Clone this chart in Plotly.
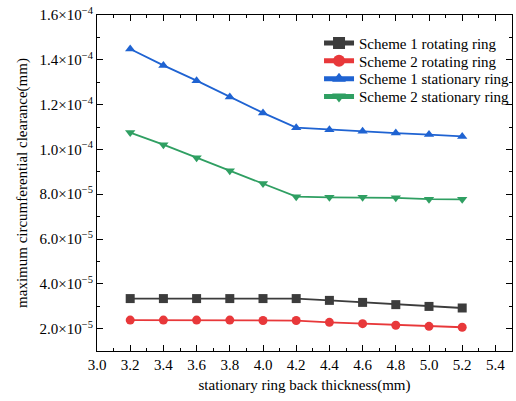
import plotly.graph_objects as go

# stationary ring back thickness (mm)
thickness = [3.2, 3.4, 3.6, 3.8, 4.0, 4.2, 4.4, 4.6, 4.8, 5.0, 5.2]

# maximum circumferential clearance (mm)
scheme1_rotating = [3.34e-5, 3.34e-5, 3.34e-5, 3.34e-5, 3.34e-5, 3.34e-5,
                    3.26e-5, 3.17e-5, 3.07e-5, 2.99e-5, 2.92e-5]
scheme2_rotating = [2.38e-5, 2.38e-5, 2.38e-5, 2.38e-5, 2.36e-5, 2.36e-5,
                    2.28e-5, 2.22e-5, 2.15e-5, 2.10e-5, 2.06e-5]
scheme1_stationary = [1.448e-4, 1.375e-4, 1.307e-4, 1.234e-4, 1.163e-4, 1.097e-4,
                      1.088e-4, 1.081e-4, 1.073e-4, 1.066e-4, 1.058e-4]
scheme2_stationary = [1.075e-4, 1.021e-4, 0.963e-4, 0.905e-4, 0.848e-4, 0.789e-4,
                      0.786e-4, 0.786e-4, 0.784e-4, 0.778e-4, 0.777e-4]

series_names = ["Scheme 1 rotating ring", "Scheme 2 rotating ring",
                "Scheme 1 stationary ring", "Scheme 2 stationary ring"]

y_tickvals = [2e-5, 4e-5, 6e-5, 8e-5, 1.0e-4, 1.2e-4, 1.4e-4, 1.6e-4]
y_ticktext = ["2.0×10<sup>−5</sup>", "4.0×10<sup>−5</sup>", "6.0×10<sup>−5</sup>",
              "8.0×10<sup>−5</sup>", "1.0×10<sup>−4</sup>", "1.2×10<sup>−4</sup>",
              "1.4×10<sup>−4</sup>", "1.6×10<sup>−4</sup>"]
x_tickvals = [3.0, 3.2, 3.4, 3.6, 3.8, 4.0, 4.2, 4.4, 4.6, 4.8, 5.0, 5.2, 5.4]

styles = [
    dict(color="#3c3c3c", symbol="square"),
    dict(color="#e8383a", symbol="circle"),
    dict(color="#1f63d2", symbol="triangle-up"),
    dict(color="#2f9f62", symbol="triangle-down"),
]
values = [scheme1_rotating, scheme2_rotating, scheme1_stationary, scheme2_stationary]

FONT = "Liberation Serif"
FS = 15

# one legend box per series so the entries can sit closely stacked
legend_ids = ["legend", "legend2", "legend3", "legend4"]
legend_tops = [0.965, 0.912, 0.859, 0.806]

fig = go.Figure()
for name, ys, st, lg in zip(series_names, values, styles, legend_ids):
    fig.add_trace(go.Scatter(
        x=thickness, y=ys, name=name, mode="lines+markers",
        line=dict(color=st["color"], width=1.8),
        marker=dict(symbol=st["symbol"], color=st["color"], size=9),
        legend=lg,
    ))

axis_common = dict(
    showline=True, linecolor="black", linewidth=1.2, mirror="ticks",
    ticks="inside", ticklen=6, tickwidth=1.2, tickcolor="black",
    showgrid=False, zeroline=False,
    tickfont=dict(family=FONT, size=FS, color="black"),
)

legend_style = dict(
    x=0.535, xanchor="left", yanchor="top",
    bgcolor="rgba(0,0,0,0)", borderwidth=0,
    font=dict(family=FONT, size=FS, color="black"),
    itemsizing="constant",
)

fig.update_layout(
    width=516, height=401,
    margin=dict(l=97, r=1, t=15, b=50),
    plot_bgcolor="white", paper_bgcolor="white",
    font=dict(family=FONT, size=FS, color="black"),
    xaxis=dict(
        range=[3.0, 5.5], tickvals=x_tickvals, ticktext=[f"{v:.1f}" for v in x_tickvals],
        title=dict(text="stationary ring back thickness(mm)", standoff=7,
                   font=dict(family=FONT, size=FS)),
        minor=dict(dtick=0.1, tick0=3.0, ticks="inside", ticklen=3, tickcolor="black"),
        **axis_common,
    ),
    yaxis=dict(
        range=[1e-5, 1.6e-4], tickvals=y_tickvals, ticktext=y_ticktext,
        title=dict(text="maximum circumferential clearance(mm)", standoff=8,
                   font=dict(family=FONT, size=FS)),
        minor=dict(dtick=1e-5, tick0=0, ticks="inside", ticklen=3, tickcolor="black"),
        **axis_common,
    ),
    showlegend=True,
)
for lg, top in zip(legend_ids, legend_tops):
    fig.update_layout({lg: dict(y=top, **legend_style)})

fig.write_html("out.html")
